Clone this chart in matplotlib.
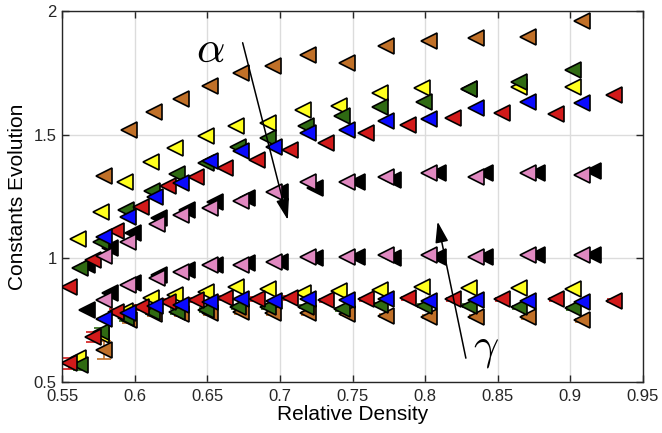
import matplotlib
matplotlib.use('Agg')
import matplotlib.pyplot as plt
import numpy as np

plt.rcParams['font.family'] = ['Liberation Sans', 'DejaVu Sans']
plt.rcParams['mathtext.fontset'] = 'cm'

# density values and the two constants (alpha = upper curves, gamma = lower curves)
brown_x = [0.579, 0.596, 0.613, 0.632, 0.652, 0.673, 0.695, 0.719, 0.746, 0.773, 0.803, 0.835, 0.871, 0.908]
brown_alpha = [1.334, 1.519, 1.590, 1.643, 1.697, 1.748, 1.775, 1.822, 1.789, 1.856, 1.880, 1.890, 1.896, 1.957]
brown_gamma = [0.629, 0.750, 0.775, 0.775, 0.778, 0.784, 0.778, 0.778, 0.775, 0.767, 0.764, 0.764, 0.762, 0.750]
brown_err = [0.035, 0.012, 0.01, 0.008, 0.008, 0.008, 0.008, 0.006, 0.006, 0.006, 0.006, 0.006, 0.006, 0.006]

yellow_x = [0.561, 0.577, 0.593, 0.611, 0.628, 0.649, 0.670, 0.692, 0.716, 0.741, 0.769, 0.798, 0.830, 0.865, 0.902]
yellow_alpha = [1.078, 1.188, 1.310, 1.387, 1.447, 1.492, 1.535, 1.548, 1.600, 1.616, 1.668, 1.689, 1.685, 1.693, 1.693]
yellow_gamma = [0.596, 0.690, 0.787, 0.838, 0.852, 0.865, 0.883, 0.875, 0.858, 0.869, 0.872, 0.883, 0.879, 0.879, 0.875]

green_x = [0.562, 0.577, 0.594, 0.612, 0.629, 0.649, 0.671, 0.692, 0.718, 0.743, 0.769, 0.799, 0.830, 0.865, 0.902]
green_alpha = [0.961, 1.067, 1.195, 1.272, 1.341, 1.385, 1.451, 1.485, 1.535, 1.575, 1.613, 1.633, 1.683, 1.714, 1.759]
green_gamma = [0.569, 0.703, 0.757, 0.784, 0.784, 0.791, 0.804, 0.804, 0.804, 0.794, 0.811, 0.807, 0.807, 0.802, 0.798]
green_err = [0.02, 0.015, 0.012, 0.01, 0.01, 0.008, 0.008, 0.008, 0.006, 0.006, 0.006, 0.006, 0.006, 0.006, 0.006]

blue_x = [0.579, 0.595, 0.614, 0.632, 0.652, 0.673, 0.696, 0.719, 0.746, 0.773, 0.803, 0.835, 0.871, 0.908]
blue_alpha = [1.087, 1.166, 1.249, 1.303, 1.391, 1.435, 1.451, 1.505, 1.519, 1.556, 1.563, 1.607, 1.633, 1.627]
blue_gamma = [0.753, 0.780, 0.807, 0.811, 0.824, 0.834, 0.829, 0.834, 0.831, 0.834, 0.829, 0.831, 0.829, 0.824]

red_x = [0.555, 0.571, 0.587, 0.604, 0.623, 0.642, 0.662, 0.684, 0.707, 0.732, 0.759, 0.788, 0.819, 0.853, 0.890, 0.930]
red_alpha = [0.885, 0.993, 1.108, 1.206, 1.292, 1.328, 1.364, 1.397, 1.438, 1.467, 1.505, 1.539, 1.566, 1.586, 1.583, 1.660]
red_gamma = [0.575, 0.681, 0.784, 0.802, 0.824, 0.831, 0.838, 0.834, 0.838, 0.831, 0.834, 0.838, 0.834, 0.834, 0.834, 0.829]
red_err = [0.022, 0.02, 0.012, 0.01, 0.01, 0.008, 0.008, 0.008, 0.008, 0.006, 0.006, 0.006, 0.006, 0.006, 0.006, 0.006]

pink_x = [0.579, 0.595, 0.615, 0.632, 0.652, 0.673, 0.696, 0.719, 0.746, 0.773, 0.803, 0.835, 0.871, 0.908]
pink_alpha = [1.009, 1.067, 1.137, 1.175, 1.202, 1.233, 1.269, 1.310, 1.310, 1.330, 1.344, 1.330, 1.344, 1.337]
pink_gamma = [0.831, 0.892, 0.919, 0.946, 0.973, 0.973, 0.986, 1.006, 1.006, 1.013, 1.013, 1.006, 1.013, 1.013]

black_x = [0.567, 0.583, 0.599, 0.617, 0.636, 0.655, 0.677, 0.700, 0.724, 0.753, 0.778, 0.809, 0.841, 0.877, 0.916]
black_alpha = [0.973, 1.040, 1.101, 1.162, 1.195, 1.229, 1.243, 1.269, 1.283, 1.310, 1.317, 1.344, 1.346, 1.344, 1.354]
black_gamma = [0.791, 0.858, 0.899, 0.932, 0.953, 0.973, 0.980, 0.986, 1.000, 1.006, 1.000, 1.006, 1.006, 1.013, 1.013]

xticks = [0.55, 0.6, 0.65, 0.7, 0.75, 0.8, 0.85, 0.9, 0.95]
yticks = [0.5, 1, 1.5, 2]

fig = plt.figure(figsize=(6.62, 4.33), dpi=100)
ax = fig.add_axes([0.094, 0.118, 0.877, 0.857])

series = [
    (black_x, black_alpha, black_gamma, None, '#000000'),
    (brown_x, brown_alpha, brown_gamma, brown_err, '#C07028'),
    (yellow_x, yellow_alpha, yellow_gamma, None, '#FFFF1E'),
    (green_x, green_alpha, green_gamma, green_err, '#2F6A12'),
    (red_x, red_alpha, red_gamma, red_err, '#D21A1A'),
    (blue_x, blue_alpha, blue_gamma, None, '#0A0AFF'),
    (pink_x, pink_alpha, pink_gamma, None, '#E088C0'),
]

for xs, a, g, err, col in series:
    if err is not None:
        ax.errorbar(xs, g, yerr=err, fmt='none', ecolor=col, elinewidth=1.2,
                    capsize=5, capthick=1.2, zorder=2)
    ax.plot(xs, a, linestyle='none', marker='<', ms=11.5, mfc=col, mec='black',
            mew=1.2, zorder=3)
    ax.plot(xs, g, linestyle='none', marker='<', ms=11.5, mfc=col, mec='black',
            mew=1.2, zorder=3)

ax.set_xlim(0.55, 0.95)
ax.set_ylim(0.5, 2)
ax.set_xticks(xticks)
ax.set_xticklabels(['0.55', '0.6', '0.65', '0.7', '0.75', '0.8', '0.85', '0.9', '0.95'])
ax.set_yticks(yticks)
ax.set_yticklabels(['0.5', '1', '1.5', '2'])
ax.grid(True, color='#DCDCDC', linewidth=1)
ax.set_axisbelow(True)
ax.tick_params(direction='in', top=True, right=True, labelsize=12,
               colors='#262626', length=5, width=1)
ax.tick_params(axis='x', pad=5)
ax.tick_params(axis='y', pad=4)
for s in ax.spines.values():
    s.set_color('#262626')
    s.set_linewidth(1)
ax.set_xlabel('Relative Density', fontsize=15, labelpad=1)
ax.set_ylabel('Constants Evolution', fontsize=15, labelpad=5)

# alpha / gamma trend arrows
ax.annotate('', xy=(0.7054, 1.155), xytext=(0.6743, 1.871),
            arrowprops=dict(arrowstyle='-|>,head_length=0.8,head_width=0.25', lw=1.1,
                            color='black', mutation_scale=16, shrinkA=0, shrinkB=0), zorder=5)
ax.annotate('', xy=(0.8086, 1.148), xytext=(0.8281, 0.596),
            arrowprops=dict(arrowstyle='-|>,head_length=0.8,head_width=0.25', lw=1.1,
                            color='black', mutation_scale=16, shrinkA=0, shrinkB=0), zorder=5)
ax.text(0.6523, 1.842, r'$\alpha$', fontsize=32, ha='center', va='center', zorder=5)
ax.text(0.8419, 0.629, r'$\gamma$', fontsize=32, ha='center', va='center', zorder=5)

fig.savefig('out.png', dpi=100)
